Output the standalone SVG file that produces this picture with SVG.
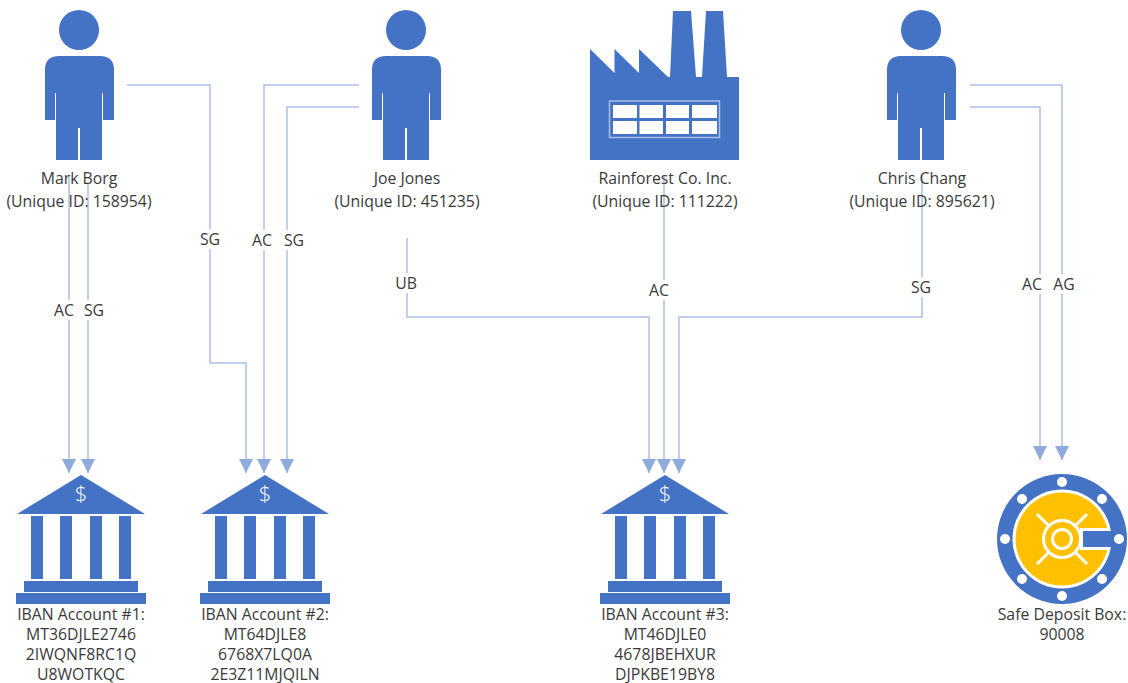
<svg xmlns="http://www.w3.org/2000/svg" width="1128" height="683" viewBox="0 0 1128 683">
<style>
text{font-family:"Open Sans","Noto Sans","Liberation Sans",sans-serif;font-size:15.8px;fill:#3a3a3a;text-anchor:middle}
.b{fill:#4472c4}
.c{fill:none;stroke:#a9bfe6;stroke-width:1.5}
.w{fill:#fff}
.d{fill:#fff;font-size:22px;font-weight:300}
</style>
<defs>
<marker id="d" markerUnits="userSpaceOnUse" markerWidth="15" markerHeight="15" refX="14" refY="7.5" orient="auto" viewBox="0 0 15 15"><path d="M0 0.5L14 7.5L0 14.5Z" fill="#8faadc"/></marker>
<g id="person"><circle cx="79" cy="30" r="20" class="b"/><path class="b" d="M45 70Q45 56 59 56H100Q114 56 114 70V120H103V93H102V160H80V128H78V160H56V93H55V120H45Z"/></g>
<g id="bank"><path class="b" d="M81 475L145 514H17Z"/><path class="b" d="M31 516H43V579H31ZM60 516H72V579H60ZM90 516H102V579H90ZM119 516H131V579H119ZM24 581H138V592H24ZM16 593H146V604H16Z"/></g>
</defs>
<g id="connectors" class="c">
<path class="c" d="M69 177V473" marker-end="url(#d)"/>
<path class="c" d="M88 183V473" marker-end="url(#d)"/>
<path class="c" d="M127 85H210V363H246V473" marker-end="url(#d)"/>
<path class="c" d="M359 85H264V473" marker-end="url(#d)"/>
<path class="c" d="M359 107H287V473" marker-end="url(#d)"/>
<path class="c" d="M407 238V317H649V473" marker-end="url(#d)"/>
<path class="c" d="M664 175V473" marker-end="url(#d)"/>
<path class="c" d="M922 175V317H679V473" marker-end="url(#d)"/>
<path class="c" d="M970 85H1062V460" marker-end="url(#d)"/>
<path class="c" d="M970 107H1040V460" marker-end="url(#d)"/>
</g>
<g id="connector-labels">
<rect class="w" x="52" y="300" width="24" height="20"/><text x="64" y="316">AC</text>
<rect class="w" x="83" y="300" width="23" height="20"/><text x="94" y="316">SG</text>
<rect class="w" x="198" y="229" width="24" height="20"/><text x="210" y="245">SG</text>
<rect class="w" x="250" y="230" width="24" height="20"/><text x="262" y="246">AC</text>
<rect class="w" x="283" y="230" width="23" height="20"/><text x="294" y="246">SG</text>
<rect class="w" x="394" y="273" width="25" height="20"/><text x="406" y="289">UB</text>
<rect class="w" x="647" y="280" width="24" height="20"/><text x="659" y="296">AC</text>
<rect class="w" x="910" y="277" width="23" height="20"/><text x="921" y="293">SG</text>
<rect class="w" x="1020" y="274" width="24" height="20"/><text x="1032" y="290">AC</text>
<rect class="w" x="1052" y="274" width="24" height="20"/><text x="1064" y="290">AG</text>
</g>
<g id="mark-borg"><use href="#person"/><text x="79" y="184">Mark Borg</text><text x="79" y="207">(Unique ID: 158954)</text></g>
<g id="joe-jones"><use href="#person" x="327"/><text x="407" y="184">Joe Jones</text><text x="407" y="207">(Unique ID: 451235)</text></g>
<g id="rainforest">
<path class="b" d="M590 49L614.500 73V49L639 73V49L668 77H670L673 11H691L696 77H702L706 11H723L727 77H739V160H590Z"/>
<rect x="609.500" y="101" width="110" height="36.500" fill="none" stroke="#a9bfe6" stroke-width="1.500"/>
<path class="w" d="M613 105H637V118H613ZM639.500 105H663V118H639.500ZM666 105H689V118H666ZM692 105H717V118H692ZM613 121H637V134H613ZM639.500 121H663V134H639.500ZM666 121H689V134H666ZM692 121H717V134H692Z"/>
<text x="665" y="184">Rainforest Co. Inc.</text><text x="665" y="207">(Unique ID: 111222)</text></g>
<g id="chris-chang"><use href="#person" x="842"/><text x="922" y="184">Chris Chang</text><text x="922" y="207">(Unique ID: 895621)</text></g>
<g id="account-1"><use href="#bank"/><text x="81" y="620">IBAN Account #1:</text><text x="81" y="640">MT36DJLE2746</text><text x="81" y="660">2IWQNF8RC1Q</text><text x="81" y="680">U8WOTKQC</text></g>
<g id="account-2"><use href="#bank" x="184"/><text x="265" y="620">IBAN Account #2:</text><text x="265" y="640">MT64DJLE8</text><text x="265" y="660">6768X7LQ0A</text><text x="265" y="680">2E3Z11MJQILN</text></g>
<g id="account-3"><use href="#bank" x="584"/><text x="665" y="620">IBAN Account #3:</text><text x="665" y="640">MT46DJLE0</text><text x="665" y="660">4678JBEHXUR</text><text x="665" y="680">DJPKBE19BY8</text></g>
<g id="dollars"><text class="d" x="81" y="501">$</text><text class="d" x="265" y="501">$</text><text class="d" x="665" y="501">$</text></g>
<g id="safe-deposit-box">
<circle cx="1062" cy="539" r="65" class="b"/>
<circle cx="1062" cy="539" r="49.500" fill="#fff"/>
<circle cx="1062" cy="539" r="46.500" fill="#ffc000"/>
<rect x="1080" y="528" width="30" height="22" fill="#fff"/>
<rect x="1083" y="531" width="34" height="16" class="b"/>
<g fill="#fff"><circle cx="1062" cy="482" r="5"/><circle cx="1062" cy="596" r="5"/><circle cx="1005" cy="539" r="5"/><circle cx="1119" cy="539" r="5"/><circle cx="1022" cy="499" r="5"/><circle cx="1102" cy="499" r="5"/><circle cx="1022" cy="579" r="5"/><circle cx="1102" cy="579" r="5"/></g>
<path d="M1037 514L1087 564M1087 514L1037 564" stroke="#fff" stroke-width="3" fill="none"/>
<circle cx="1062" cy="539" r="18.500" fill="#ffc000" stroke="#fff" stroke-width="3"/>
<circle cx="1062" cy="539" r="9.500" fill="#ffc000" stroke="#fff" stroke-width="3"/>
<text x="1062" y="620">Safe Deposit Box:</text><text x="1062" y="640">90008</text></g>
</svg>
